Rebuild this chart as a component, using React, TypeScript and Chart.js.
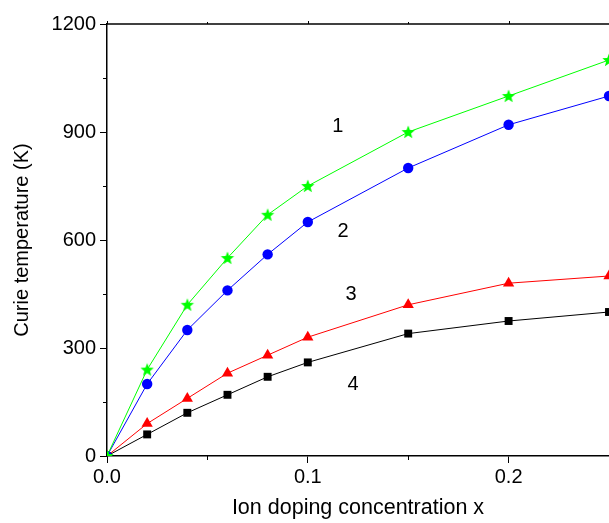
import React, { useEffect, useRef } from "react";
import { Chart, registerables } from "chart.js";

Chart.register(...registerables);

const xValues = [0, 0.02, 0.04, 0.06, 0.08, 0.1, 0.15, 0.2, 0.25];
const series1 = [0, 240, 420, 550, 670, 750, 900, 1000, 1100];
const series2 = [0, 200, 350, 460, 560, 650, 800, 920, 1000];
const series3 = [0, 90, 160, 230, 280, 330, 420, 480, 500];
const series4 = [0, 60, 120, 170, 220, 260, 340, 375, 400];

const xMajorTicks = [0, 0.1, 0.2];
const xMinorTicks = [0.05, 0.15, 0.25];
const xMax = 0.25;
const yMajorTicks = [0, 300, 600, 900, 1200];
const yMinorTicks = [150, 450, 750, 1050];

const curveLabels = ["1", "2", "3", "4"];
const curveLabelX = [0.115, 0.1175, 0.1215, 0.1225];
const curveLabelY = [915, 623, 450, 198];

const FONT = "'Liberation Sans', Arial, sans-serif";
const CANVAS_W = 617;

function makeStar(color: string, outer: number, inner: number) {
  const size = Math.ceil(outer * 2 + 2);
  const c = document.createElement("canvas");
  c.width = size;
  c.height = size;
  const ctx = c.getContext("2d")!;
  const cx = size / 2;
  const cy = size / 2 + 0.5;
  ctx.beginPath();
  for (let i = 0; i < 10; i++) {
    const r = i % 2 === 0 ? outer : inner;
    const a = -Math.PI / 2 + (i * Math.PI) / 5;
    const px = cx + r * Math.cos(a);
    const py = cy + r * Math.sin(a);
    if (i === 0) ctx.moveTo(px, py);
    else ctx.lineTo(px, py);
  }
  ctx.closePath();
  ctx.fillStyle = color;
  ctx.fill();
  return c;
}

export default function App() {
  const ref = useRef<HTMLCanvasElement>(null);

  useEffect(() => {
    document.body.style.margin = "0";
    document.body.style.overflow = "hidden";
    const star = makeStar("#00ff00", 7, 3);
    const mk = (ys: number[]) => xValues.map((x, i) => ({ x, y: ys[i] }));

    const extras = {
      id: "extras",
      afterDraw(chart: any) {
        const { ctx, chartArea } = chart;
        const xs = chart.scales.x;
        const ys = chart.scales.y;
        ctx.save();
        ctx.strokeStyle = "#000";
        ctx.lineWidth = 1.5;
        ctx.beginPath();
        ctx.moveTo(chartArea.left, chartArea.top);
        ctx.lineTo(chartArea.right + 2, chartArea.top);
        ctx.stroke();
        ctx.lineWidth = 1;
        for (const v of yMinorTicks) {
          const p = Math.round(ys.getPixelForValue(v)) + 0.5;
          ctx.beginPath();
          ctx.moveTo(chartArea.left - 4, p);
          ctx.lineTo(chartArea.left, p);
          ctx.stroke();
        }
        for (const v of xMinorTicks) {
          const p = Math.round(xs.getPixelForValue(v)) + 0.5;
          ctx.beginPath();
          ctx.moveTo(p, chartArea.bottom);
          ctx.lineTo(p, chartArea.bottom + 4);
          ctx.stroke();
          ctx.beginPath();
          ctx.moveTo(p, chartArea.top);
          ctx.lineTo(p, chartArea.top - 2);
          ctx.stroke();
        }
        for (const v of xMajorTicks) {
          const p = Math.round(xs.getPixelForValue(v)) + 0.5;
          ctx.beginPath();
          ctx.moveTo(p, chartArea.top);
          ctx.lineTo(p, chartArea.top - 3);
          ctx.stroke();
        }
        ctx.fillStyle = "#000";
        ctx.font = `20px ${FONT}`;
        ctx.textAlign = "center";
        ctx.textBaseline = "middle";
        curveLabels.forEach((t, i) => {
          ctx.fillText(t, xs.getPixelForValue(curveLabelX[i]), ys.getPixelForValue(curveLabelY[i]));
        });
        ctx.restore();
      },
    };

    const common = { showLine: true, borderWidth: 1, clip: 0, pointHoverRadius: 5 };

    const chart = new Chart(ref.current!, {
      type: "scatter",
      data: {
        datasets: [
          { ...common, label: "1", data: mk(series1), borderColor: "#00ff00", backgroundColor: "#00ff00", pointStyle: star as any, pointRadius: 7 },
          { ...common, label: "2", data: mk(series2), borderColor: "#0000ff", backgroundColor: "#0000ff", pointStyle: "circle", pointRadius: 5.2, pointBorderWidth: 0 },
          { ...common, label: "3", data: mk(series3), borderColor: "#ff0000", backgroundColor: "#ff0000", pointStyle: "triangle", pointRadius: 6.5, pointBorderWidth: 0 },
          { ...common, label: "4", data: mk(series4), borderColor: "#000000", backgroundColor: "#000000", pointStyle: "rect", pointRadius: 5.6, pointBorderWidth: 0 },
        ],
      },
      options: {
        animation: false,
        responsive: false,
        maintainAspectRatio: false,
        layout: { padding: { top: 24, right: 0, bottom: 0, left: 0 } },
        plugins: { legend: { display: false }, tooltip: { enabled: false } },
        scales: {
          x: {
            type: "linear",
            min: 0,
            max: xMax,
            afterBuildTicks: (s: any) => {
              s.ticks = xMajorTicks.map((v) => ({ value: v }));
            },
            afterFit: (s: any) => {
              s.height = 67;
            },
            grid: { drawOnChartArea: false, drawTicks: true, tickLength: 7, tickColor: "#000", tickWidth: 1 },
            border: { display: true, color: "#000", width: 1.5 },
            ticks: {
              color: "#000",
              font: { family: FONT, size: 20 },
              padding: 2,
              maxRotation: 0,
              callback: (v: any) => Number(v).toFixed(1),
            },
            title: {
              display: true,
              text: "Ion doping concentration x",
              color: "#000",
              font: { family: FONT, size: 21.5 },
              padding: { top: 0, bottom: 2 },
            },
          },
          y: {
            type: "linear",
            min: 0,
            max: 1200,
            afterBuildTicks: (s: any) => {
              s.ticks = yMajorTicks.map((v) => ({ value: v }));
            },
            afterFit: (s: any) => {
              s.width = 107;
            },
            grid: { drawOnChartArea: false, drawTicks: true, tickLength: 7, tickColor: "#000", tickWidth: 1 },
            border: { display: true, color: "#000", width: 1.5 },
            ticks: {
              color: "#000",
              font: { family: FONT, size: 20 },
              padding: 4,
              callback: (v: any) => String(v),
            },
            title: {
              display: true,
              text: "Curie temperature (K)",
              color: "#000",
              font: { family: FONT, size: 20 },
              padding: { top: 10, bottom: 0 },
            },
          },
        },
      },
      plugins: [extras],
    });
    return () => chart.destroy();
  }, []);

  return (
    <div style={{ position: "absolute", left: 0, top: 0, width: 609, height: 523, overflow: "hidden" }}>
      <canvas ref={ref} width={CANVAS_W} height={523} style={{ width: CANVAS_W, height: 523, display: "block" }} />
    </div>
  );
}
